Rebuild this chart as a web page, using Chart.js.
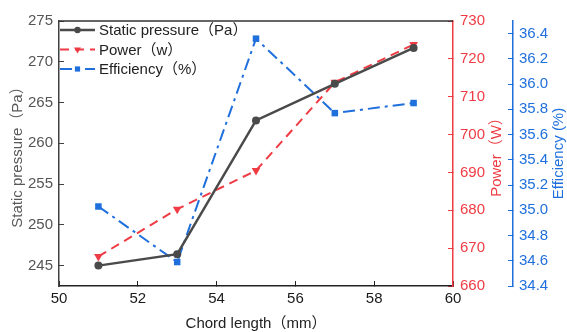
<!DOCTYPE html>
<html>
<head>
<meta charset="utf-8">
<script src="https://cdn.jsdelivr.net/npm/chart.js@4.4.1/dist/chart.umd.min.js"></script>
<style>
  html, body { margin: 0; padding: 0; background: #fff; }
  #wrap { width: 567px; height: 332px; }
</style>
</head>
<body>
<div id="wrap"><canvas id="chart" width="567" height="332"></canvas></div>
<script>
// values
const chordLength = [51, 53, 55, 57, 59];
const staticPressure = [245.0, 246.4, 262.8, 267.3, 271.7];
const power = [667.8, 680.3, 690.5, 713.8, 723.8];
const efficiency = [35.03, 34.59, 36.36, 35.77, 35.85];

const xTicks = [50, 52, 54, 56, 58, 60];
const pressureTicks = [245, 250, 255, 260, 265, 270, 275];
const powerTicks = [660, 670, 680, 690, 700, 710, 720, 730];
const efficiencyTicks = [34.4, 34.6, 34.8, 35.0, 35.2, 35.4, 35.6, 35.8, 36.0, 36.2, 36.4];

const GRAY = '#4a4a4a';
const RED = '#ef3b44';
const BLUE = '#1f6fdc';
const FONT = '"Liberation Sans", Arial, "Noto Sans CJK SC", sans-serif';

const pts = (ys) => chordLength.map((x, i) => ({ x: x, y: ys[i] }));
const fixTicks = (list) => (scale) => { scale.ticks = list.map(v => ({ value: v })); };

// draws the legend, axis titles and top frame line
const decorations = {
    id: 'decorations',
    afterDraw(chart) {
        const ctx = chart.ctx;
        const area = chart.chartArea;
        ctx.save();

        ctx.strokeStyle = '#333';
        ctx.lineWidth = 1.5;
        ctx.beginPath();
        ctx.moveTo(area.left, area.top);
        ctx.lineTo(area.right, area.top);
        ctx.stroke();

        const rotated = (text, x, y, color) => {
            ctx.save();
            ctx.translate(x, y);
            ctx.rotate(-Math.PI / 2);
            ctx.fillStyle = color;
            ctx.font = '15px ' + FONT;
            ctx.textAlign = 'center';
            ctx.textBaseline = 'middle';
            ctx.fillText(text, 0, 0);
            ctx.restore();
        };
        const midY = (area.top + area.bottom) / 2;
        rotated('Static pressure（Pa）', 18, midY, '#595959');
        rotated('Power（W）', 497, midY, RED);
        rotated('Efficiency (%)', 559, midY, BLUE);

        ctx.fillStyle = '#222';
        ctx.font = '15px ' + FONT;
        ctx.textAlign = 'center';
        ctx.textBaseline = 'middle';
        ctx.fillText('Chord length（mm）', (area.left + area.right) / 2, 323.5);

        // legend
        const rows = [30, 49.5, 69];
        chart.data.datasets.forEach((ds, i) => {
            const y = rows[i];
            ctx.save();
            ctx.strokeStyle = ds.borderColor;
            ctx.lineWidth = ds.borderWidth;
            ctx.setLineDash(ds.borderDash || []);
            ctx.beginPath();
            ctx.moveTo(60, y);
            ctx.lineTo(95, y);
            ctx.stroke();
            ctx.restore();
            ctx.save();
            ctx.fillStyle = ds.pointBackgroundColor;
            ctx.strokeStyle = ds.pointBackgroundColor;
            Chart.helpers.drawPoint(ctx, {
                pointStyle: ds.pointStyle,
                radius: ds.pointRadius * 0.8,
                rotation: ds.pointRotation || 0,
                borderWidth: 0
            }, 77.5, y);
            ctx.restore();
            ctx.fillStyle = '#222';
            ctx.font = '15px ' + FONT;
            ctx.textAlign = 'left';
            ctx.textBaseline = 'middle';
            ctx.fillText(ds.label, 99, y + 1);
        });
        ctx.restore();
    }
};

new Chart(document.getElementById('chart'), {
    type: 'line',
    data: {
        datasets: [
            {
                label: 'Static pressure（Pa）',
                data: pts(staticPressure),
                yAxisID: 'y',
                borderColor: GRAY,
                backgroundColor: GRAY,
                pointBackgroundColor: GRAY,
                pointBorderColor: GRAY,
                borderWidth: 2.5,
                pointBorderWidth: 0,
                pointStyle: 'circle',
                pointRadius: 4
            },
            {
                label: 'Power（w）',
                data: pts(power),
                yAxisID: 'y1',
                borderColor: RED,
                backgroundColor: RED,
                pointBackgroundColor: RED,
                pointBorderColor: RED,
                borderWidth: 2,
                borderDash: [9, 6],
                pointBorderWidth: 0,
                pointStyle: 'triangle',
                pointRotation: 180,
                pointRadius: 5
            },
            {
                label: 'Efficiency（%）',
                data: pts(efficiency),
                yAxisID: 'y2',
                borderColor: BLUE,
                backgroundColor: BLUE,
                pointBackgroundColor: BLUE,
                pointBorderColor: BLUE,
                borderWidth: 2,
                borderDash: [12, 5, 3, 5],
                pointBorderWidth: 0,
                pointStyle: 'rect',
                pointRadius: 4.6
            }
        ]
    },
    options: {
        responsive: false,
        devicePixelRatio: 1,
        animation: false,
        layout: { padding: { top: 17, left: 0, right: 0, bottom: 0 } },
        plugins: {
            legend: { display: false },
            tooltip: { enabled: false }
        },
        scales: {
            x: {
                type: 'linear',
                position: 'bottom',
                min: 50, max: 60,
                afterBuildTicks: fixTicks(xTicks),
                afterFit: (s) => { s.height = 46; },
                border: { color: '#222', width: 1.5 },
                grid: { drawOnChartArea: false, tickLength: -5, tickColor: '#222' },
                ticks: { color: '#1a1a1a', padding: 9, font: { family: FONT, size: 15 }, maxRotation: 0 }
            },
            y: {
                position: 'left',
                min: 242.5, max: 275,
                afterBuildTicks: fixTicks(pressureTicks),
                afterFit: (s) => { s.width = 59; },
                border: { color: '#404040', width: 1.5 },
                grid: { drawOnChartArea: false, tickLength: -5, tickColor: '#404040' },
                ticks: { color: '#555', padding: 11, font: { family: FONT, size: 15 } }
            },
            y1: {
                position: 'right',
                weight: 0,
                min: 660, max: 730,
                afterBuildTicks: fixTicks(powerTicks),
                afterFit: (s) => { s.width = 60; },
                border: { color: RED, width: 1.5 },
                grid: { drawOnChartArea: false, tickLength: -5, tickColor: RED },
                ticks: { color: RED, padding: 12, font: { family: FONT, size: 15 } }
            },
            y2: {
                position: 'right',
                weight: 1,
                min: 34.4, max: 36.5,
                afterBuildTicks: fixTicks(efficiencyTicks),
                afterFit: (s) => { s.width = 54; },
                border: { color: BLUE, width: 1.5 },
                grid: { drawOnChartArea: false, tickLength: -5, tickColor: BLUE },
                ticks: {
                    color: BLUE, padding: 11, font: { family: FONT, size: 15 },
                    callback: (v) => Number(v).toFixed(1)
                }
            }
        }
    },
    plugins: [decorations]
});
</script>
</body>
</html>
